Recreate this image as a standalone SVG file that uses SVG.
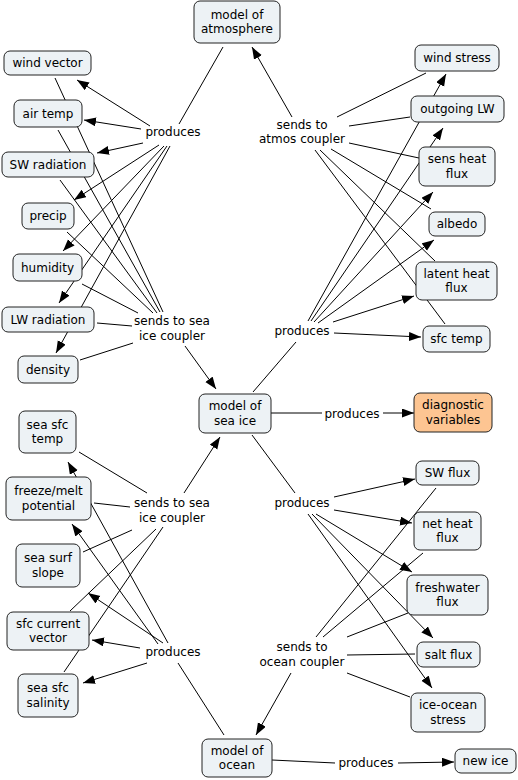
<svg xmlns="http://www.w3.org/2000/svg" width="518" height="780" viewBox="0 0 518 780">
<style>
text{font-family:"DejaVu Sans","Verdana",sans-serif;font-size:12px;fill:#000;text-anchor:middle}
.n rect{fill:#edf2f5;stroke:#222;stroke-width:1}
.n.o rect{fill:#fdc592}
#conn line{stroke:#000;stroke-width:1}
#conn line.a{marker-end:url(#ah)}
</style>
<defs>
<marker id="ah" markerUnits="userSpaceOnUse" markerWidth="12" markerHeight="10" refX="12" refY="4.5" orient="auto">
<path d="M0,0 L12,4.5 L0,9 z" fill="#000"/>
</marker>
</defs>
<rect width="518" height="780" fill="#fff"/>
<g id="conn">
<!-- atmosphere produces -->
<line x1="223" y1="47" x2="179" y2="124"/>
<line class="a" x1="150" y1="126" x2="77" y2="80"/>
<line class="a" x1="141" y1="129" x2="84" y2="120"/>
<line class="a" x1="143" y1="143" x2="97" y2="153"/>
<line class="a" x1="159" y1="145" x2="74" y2="200"/>
<line class="a" x1="164" y1="146" x2="63" y2="251"/>
<line class="a" x1="167" y1="146" x2="59" y2="303"/>
<line class="a" x1="170" y1="146" x2="56" y2="353"/>
<!-- sends to sea ice coupler (top) -->
<line x1="55" y1="78" x2="163" y2="312"/>
<line x1="58" y1="130" x2="160" y2="312"/>
<line x1="60" y1="180" x2="157" y2="313"/>
<line x1="67" y1="232" x2="153" y2="313"/>
<line x1="82" y1="284" x2="138" y2="313"/>
<line x1="97" y1="323" x2="132" y2="326"/>
<line x1="80" y1="360" x2="133" y2="343"/>
<line class="a" x1="185" y1="346" x2="216" y2="389"/>
<!-- sends to atmos coupler -->
<line class="a" x1="292" y1="117" x2="252" y2="47"/>
<line x1="337" y1="117" x2="426" y2="73"/>
<line x1="349" y1="126" x2="410" y2="117"/>
<line x1="349" y1="143" x2="419" y2="158"/>
<line x1="331" y1="149" x2="431" y2="209"/>
<line x1="320" y1="150" x2="435" y2="261"/>
<line x1="315" y1="150" x2="445" y2="324"/>
<!-- sea ice produces (upper right) -->
<line x1="253" y1="392" x2="296" y2="342"/>
<line class="a" x1="308" y1="321" x2="446" y2="74"/>
<line class="a" x1="311" y1="321" x2="443" y2="128"/>
<line class="a" x1="314" y1="322" x2="433" y2="192"/>
<line class="a" x1="318" y1="323" x2="434" y2="240"/>
<line class="a" x1="333" y1="322" x2="414" y2="296"/>
<line class="a" x1="334" y1="333" x2="421" y2="337"/>
<!-- diagnostic -->
<line x1="271" y1="413" x2="322" y2="413"/>
<line class="a" x1="383" y1="413" x2="414" y2="413"/>
<!-- sea ice produces (lower right) -->
<line x1="252" y1="435" x2="295" y2="493"/>
<line class="a" x1="334" y1="497" x2="415" y2="479"/>
<line class="a" x1="334" y1="510" x2="412" y2="523"/>
<line class="a" x1="316" y1="514" x2="412" y2="572"/>
<line class="a" x1="312" y1="514" x2="433" y2="638"/>
<line class="a" x1="308" y1="514" x2="432" y2="688"/>
<!-- sends to ocean coupler -->
<line x1="436" y1="488" x2="316" y2="637"/>
<line x1="423" y1="553" x2="323" y2="637"/>
<line x1="408" y1="613" x2="347" y2="637"/>
<line x1="415" y1="654" x2="347" y2="655"/>
<line x1="410" y1="697" x2="347" y2="673"/>
<line class="a" x1="291" y1="673" x2="256" y2="735"/>
<!-- sends to sea ice coupler (bottom) -->
<line class="a" x1="184" y1="493" x2="220" y2="437"/>
<line x1="79" y1="452" x2="147" y2="493"/>
<line x1="94" y1="503" x2="130" y2="507"/>
<line x1="83" y1="552" x2="132" y2="530"/>
<line x1="70" y1="611" x2="156" y2="529"/>
<line x1="64" y1="672" x2="163" y2="527"/>
<!-- ocean produces -->
<line x1="224" y1="735" x2="178" y2="663"/>
<line class="a" x1="168" y1="643" x2="68" y2="462"/>
<line class="a" x1="158" y1="644" x2="72" y2="524"/>
<line class="a" x1="163" y1="643" x2="88" y2="593"/>
<line class="a" x1="140" y1="648" x2="92" y2="640"/>
<line class="a" x1="147" y1="663" x2="83" y2="683"/>
<!-- ocean new ice -->
<line x1="272" y1="760" x2="335" y2="763"/>
<line class="a" x1="398" y1="763" x2="454" y2="762"/>
</g>
<g id="labels">
<text x="173" y="136">produces</text>
<text x="302" y="129">sends to</text><text x="302" y="143">atmos coupler</text>
<text x="172" y="325">sends to sea</text><text x="172" y="340">ice coupler</text>
<text x="302" y="335">produces</text>
<text x="352" y="418">produces</text>
<text x="302" y="507">produces</text>
<text x="172" y="507">sends to sea</text><text x="172" y="522">ice coupler</text>
<text x="173" y="656">produces</text>
<text x="302" y="651">sends to</text><text x="302" y="666">ocean coupler</text>
<text x="366" y="767">produces</text>
</g>
<g id="atm" class="n"><rect x="194" y="1" width="86" height="42" rx="6"/><text x="237" y="18.75">model of</text><text x="237" y="33.25">atmosphere</text></g>
<g id="windvector" class="n"><rect x="4" y="51" width="87" height="24" rx="6"/><text x="47.5" y="67">wind vector</text></g>
<g id="airtemp" class="n"><rect x="14" y="100" width="68" height="27" rx="6"/><text x="48" y="117.5">air temp</text></g>
<g id="swrad" class="n"><rect x="2" y="152" width="92" height="25" rx="6"/><text x="48" y="168.5">SW radiation</text></g>
<g id="precip" class="n"><rect x="22" y="203" width="52" height="26" rx="6"/><text x="48" y="220">precip</text></g>
<g id="humidity" class="n"><rect x="13" y="254" width="69" height="27" rx="6"/><text x="47.5" y="271.5">humidity</text></g>
<g id="lwrad" class="n"><rect x="2" y="307" width="92" height="25" rx="6"/><text x="48" y="323.5">LW radiation</text></g>
<g id="density" class="n"><rect x="18" y="356" width="60" height="27" rx="6"/><text x="48" y="373.5">density</text></g>
<g id="windstress" class="n"><rect x="415" y="45" width="84" height="26" rx="6"/><text x="457" y="62">wind stress</text></g>
<g id="outlw" class="n"><rect x="411" y="96" width="93" height="26" rx="6"/><text x="457.5" y="113">outgoing LW</text></g>
<g id="sensheat" class="n"><rect x="419" y="147" width="76" height="39" rx="6"/><text x="457" y="163.25">sens heat</text><text x="457" y="177.75">flux</text></g>
<g id="albedo" class="n"><rect x="429" y="212" width="56" height="24" rx="6"/><text x="457" y="228">albedo</text></g>
<g id="latent" class="n"><rect x="416" y="262" width="81" height="38" rx="6"/><text x="456.5" y="277.75">latent heat</text><text x="456.5" y="292.25">flux</text></g>
<g id="sfctemp" class="n"><rect x="423" y="326" width="67" height="26" rx="6"/><text x="456.5" y="343">sfc temp</text></g>
<g id="seaice" class="n"><rect x="199" y="394" width="72" height="39" rx="6"/><text x="235" y="410.25">model of</text><text x="235" y="424.75">sea ice</text></g>
<g id="diag" class="n o"><rect x="414" y="393" width="78" height="39" rx="6"/><text x="453" y="409.25">diagnostic</text><text x="453" y="423.75">variables</text></g>
<g id="seasfctemp" class="n"><rect x="19" y="411" width="57" height="42" rx="6"/><text x="47.5" y="428.75">sea sfc</text><text x="47.5" y="443.25">temp</text></g>
<g id="freezemelt" class="n"><rect x="6" y="477" width="85" height="43" rx="6"/><text x="48.5" y="495.25">freeze/melt</text><text x="48.5" y="509.75">potential</text></g>
<g id="seasurfslope" class="n"><rect x="16" y="544" width="64" height="43" rx="6"/><text x="48" y="562.25">sea surf</text><text x="48" y="576.75">slope</text></g>
<g id="sfccurrent" class="n"><rect x="7" y="612" width="82" height="38" rx="6"/><text x="48" y="627.75">sfc current</text><text x="48" y="642.25">vector</text></g>
<g id="salinity" class="n"><rect x="18" y="674" width="60" height="43" rx="6"/><text x="48" y="692.25">sea sfc</text><text x="48" y="706.75">salinity</text></g>
<g id="ocean" class="n"><rect x="202" y="739" width="70" height="38" rx="6"/><text x="237" y="754.75">model of</text><text x="237" y="769.25">ocean</text></g>
<g id="swflux" class="n"><rect x="416" y="461" width="63" height="24" rx="6"/><text x="447.5" y="477">SW flux</text></g>
<g id="netheat" class="n"><rect x="414" y="512" width="67" height="38" rx="6"/><text x="447.5" y="527.75">net heat</text><text x="447.5" y="542.25">flux</text></g>
<g id="freshwater" class="n"><rect x="407" y="575" width="81" height="40" rx="6"/><text x="447.5" y="591.75">freshwater</text><text x="447.5" y="606.25">flux</text></g>
<g id="saltflux" class="n"><rect x="417" y="642" width="63" height="25" rx="6"/><text x="448.5" y="658.5">salt flux</text></g>
<g id="iceocean" class="n"><rect x="411" y="693" width="74" height="39" rx="6"/><text x="448" y="709.25">ice-ocean</text><text x="448" y="723.75">stress</text></g>
<g id="newice" class="n"><rect x="455" y="749" width="61" height="24" rx="6"/><text x="485.5" y="765">new ice</text></g>
</svg>
